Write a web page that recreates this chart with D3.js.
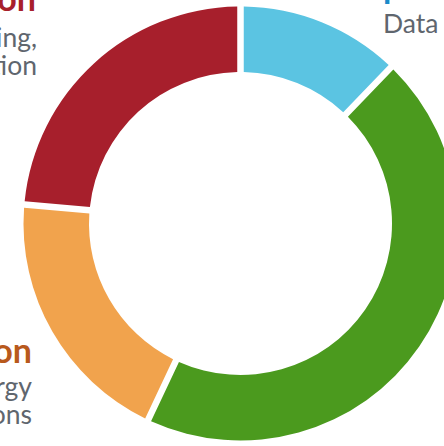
<!DOCTYPE html>
<html lang="en">
<head>
<meta charset="utf-8">
<title>Donut</title>
<style>
  body { margin: 0; background: #fff; }
  svg { display: block; }
  .title { font-family: Lato, sans-serif; font-weight: bold; font-size: 34px; }
  .desc { font-family: Lato, sans-serif; font-size: 26.5px; fill: #5f666e; }
</style>
</head>
<body>
<div id="chart"></div>
<script src="https://d3js.org/d3.v7.min.js"></script>
<script>
// slices, clockwise from 12 o'clock (share in %)
const stages = ['Input', 'Use', 'Operation', 'Production'];
const shares = [12.2, 44.8, 19.4, 23.6];
const colors = ['#5bc4e2', '#4b9a1e', '#f1a34d', '#a71f2c'];

// labels around the ring (only partly inside the frame)
const titleColors = ['#1b8ac9', '#a71f2c', '#b8591c'];
const labelTitles = ['Input', 'Production', 'Operation'];
const labelLines = [['Data'], ['Manufacturing,', 'distribution'], ['Energy', 'emissions']];

const width = 444, height = 446;
const cx = 240.5, cy = 223.5;
const outer = 217, inner = 151.5;

const svg = d3.select('#chart').append('svg')
  .attr('width', width)
  .attr('height', height);

const pie = d3.pie().sort(null).value(d => d.value);
const arc = d3.arc()
  .innerRadius(inner)
  .outerRadius(outer)
  .padAngle(0.03)
  .padRadius(outer);

const data = stages.map((s, i) => ({ name: s, value: shares[i], color: colors[i] }));

svg.append('g')
  .attr('transform', `translate(${cx},${cy})`)
  .selectAll('path')
  .data(pie(data))
  .join('path')
  .attr('d', arc)
  .attr('fill', d => d.data.color);

// label blocks: title x, title baseline, first line x, first line baseline, anchor
const labelPos = [
  [354, -2, 383, 33, 'start'],
  [36, 11, 37, 47, 'end'],
  [32, 363, 32, 396, 'end']
];

labelTitles.forEach((t, i) => {
  const [x, y, lx, ly, anchor] = labelPos[i];
  const g = svg.append('g');
  g.append('text')
    .attr('class', 'title')
    .attr('x', x)
    .attr('y', y)
    .attr('text-anchor', anchor)
    .attr('fill', titleColors[i])
    .text(t);
  g.selectAll('text.desc')
    .data(labelLines[i])
    .join('text')
    .attr('class', 'desc')
    .attr('x', lx)
    .attr('y', (d, j) => ly + j * 28)
    .attr('text-anchor', anchor)
    .text(d => d);
});
</script>
</body>
</html>
